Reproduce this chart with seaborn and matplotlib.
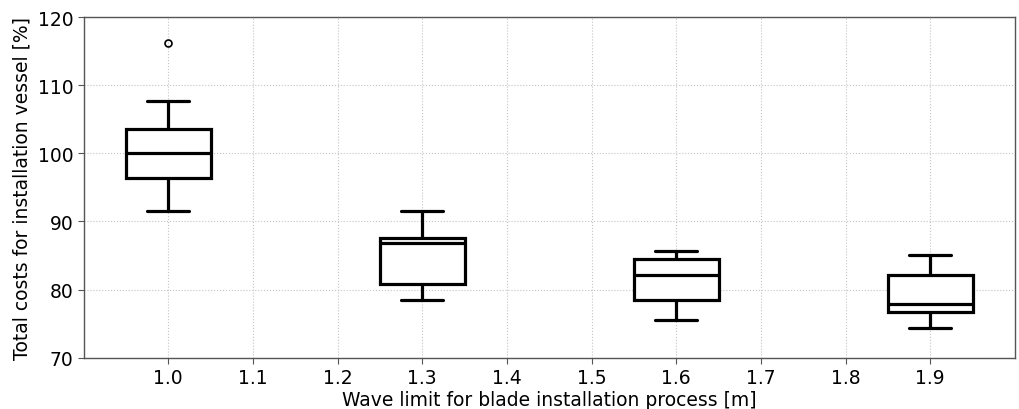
import numpy as np
import pandas as pd
import matplotlib
matplotlib.use("Agg")
import matplotlib.pyplot as plt
import seaborn as sns

# Wave limits (x positions) and sample values per group (chosen so the box stats match the picture)
wave_limits = [1.0, 1.3, 1.6, 1.9]
costs_10 = [91.6, 94.0, 96.4, 98.2, 100.0, 101.8, 103.5, 107.7, 116.2]
costs_13 = [78.5, 80.85, 86.9, 87.6, 91.6]
costs_16 = [75.6, 78.5, 82.2, 84.5, 85.7]
costs_19 = [74.4, 76.7, 77.9, 82.2, 85.1]
xticks = [1.0, 1.1, 1.2, 1.3, 1.4, 1.5, 1.6, 1.7, 1.8, 1.9]

groups = [costs_10, costs_13, costs_16, costs_19]
df = pd.DataFrame({
    "wave": np.concatenate([[w] * len(g) for w, g in zip(wave_limits, groups)]),
    "cost": np.concatenate(groups),
})

sns.set_style("white")
plt.rcParams['font.family'] = ['DejaVu Sans']
plt.rcParams['text.color'] = 'black'
plt.rcParams['axes.labelcolor'] = 'black'
plt.rcParams['xtick.color'] = 'black'
plt.rcParams['ytick.color'] = 'black'

fig, ax = plt.subplots(figsize=(10.19, 4.10), dpi=100)
lw = 2.3
sns.boxplot(data=df, x="wave", y="cost", native_scale=True, width=0.1 / 0.3,
            color="white", linecolor="black", linewidth=lw,
            flierprops=dict(marker="o", markersize=5, markerfacecolor="none",
                            markeredgecolor="black", markeredgewidth=1.2),
            ax=ax)

ax.set_xlim(0.9, 2.0)
ax.set_ylim(70, 120)
ax.set_xticks(xticks)
ax.set_xticklabels([f"{t:.1f}" for t in xticks])
ax.set_yticks([70, 80, 90, 100, 110, 120])
ax.grid(True, linestyle=":", color="#c4c4c4", linewidth=0.8)
ax.set_axisbelow(True)
for s in ax.spines.values():
    s.set_color("#555555")
    s.set_linewidth(1.0)
ax.tick_params(axis="both", labelsize=13.5, length=4, color="#555555",
               labelcolor="black", left=True, bottom=True)
ax.set_xlabel("Wave limit for blade installation process [m]", fontsize=13.5, labelpad=2)
ax.set_ylabel("Total costs for installation vessel [%]", fontsize=13.5)

fig.subplots_adjust(left=0.082, right=0.996, top=0.956, bottom=0.125)
fig.savefig("out.png", dpi=100)
